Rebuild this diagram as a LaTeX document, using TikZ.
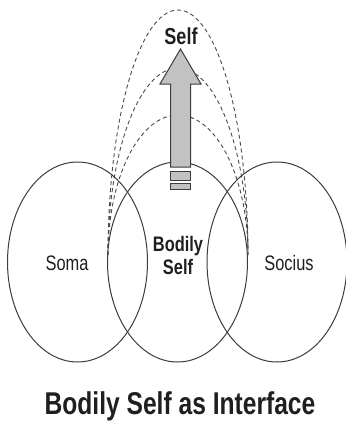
\documentclass[tikz,border=0pt]{standalone}
\usepackage{graphicx}
\usepackage{fontspec}
\setmainfont{Liberation Sans}
\usetikzlibrary{shapes.geometric}
\newcommand{\narrowtxt}[1]{\scalebox{0.82}[1.05]{#1}}
\definecolor{linegray}{HTML}{3C3C3C}
\definecolor{dashgray}{HTML}{4A4A4A}
\definecolor{arrowfill}{HTML}{C2C2C2}
\tikzset{
  circ/.style={ellipse, draw=linegray, line width=1pt, minimum width=140pt, minimum height=200pt, inner sep=0pt},
  dasharc/.style={draw=dashgray, line width=0.9pt, dash pattern=on 4pt off 3pt},
  lbl/.style={inner sep=0pt, text=black!88, font=\fontsize{20}{22}\selectfont},
  blbl/.style={inner sep=0pt, text=black!88, font=\fontsize{20}{23}\selectfont\bfseries, align=center},
  arrowpart/.style={fill=arrowfill, draw=linegray, line width=1pt}
}
\begin{document}
\begin{tikzpicture}[x=1pt,y=-1pt]
\useasboundingbox (0,0) rectangle (346,424);
% dashed arcs
\draw[dasharc] (108,255) arc[start angle=180, end angle=360, x radius=70, y radius=245];
\draw[dasharc] (108,255) arc[start angle=180, end angle=360, x radius=70, y radius=187];
\draw[dasharc] (108,255) arc[start angle=180, end angle=360, x radius=70, y radius=140];
% ellipses
\node[circ] (soma) at (77.5,262) {};
\node[circ] (body) at (177.5,262) {};
\node[circ] (socius) at (277,262) {};
% arrow
\draw[arrowpart] (170.5,167) -- (170.5,84) -- (160,84) -- (180.5,49) -- (201,84) -- (190.5,84) -- (190.5,167) -- cycle;
\draw[arrowpart] (170.5,171) rectangle (190.5,180);
\draw[arrowpart] (170.5,183) rectangle (190.5,189);
% labels
\node[inner sep=0pt, text=black!88, font=\fontsize{22}{24}\selectfont\bfseries] (self) at (181,36) {\narrowtxt{Self}};
\node[lbl] (somat) at (67,263) {\narrowtxt{Soma}};
\node[lbl] (sociust) at (289,263) {\narrowtxt{Socius}};
\node[blbl] (bodyt) at (178,255) {\narrowtxt{Bodily}\\\narrowtxt{Self}};
\node[inner sep=0pt, text=black!88, font=\fontsize{30}{32}\selectfont\bfseries] (title) at (180,406) {\narrowtxt{Bodily Self as Interface}};
\end{tikzpicture}
\end{document}
